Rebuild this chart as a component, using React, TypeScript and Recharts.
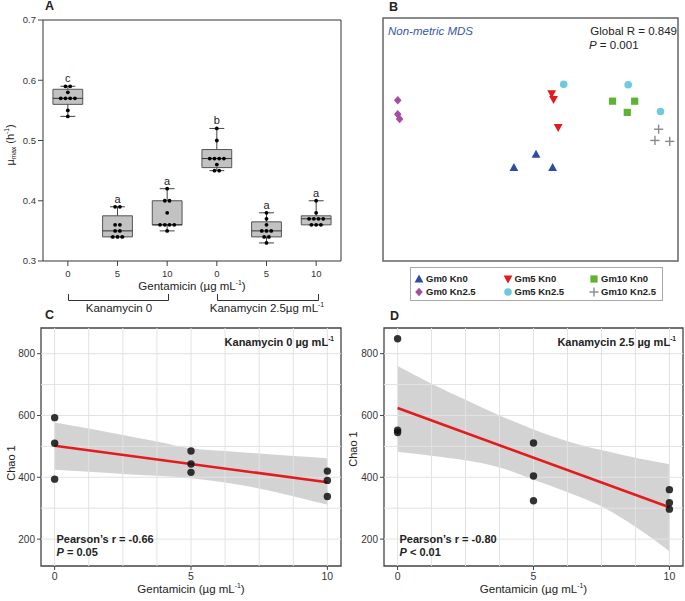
import React from 'react';
import {
  ComposedChart,
  ScatterChart,
  Scatter,
  Line,
  Area,
  XAxis,
  YAxis,
  ReferenceLine,
  ReferenceArea,
} from 'recharts';

// ---- panel A: growth rate boxplots ----
const doseLabels = ['0', '5', '10', '0', '5', '10'];
const sigLetters = ['c', 'a', 'a', 'b', 'a', 'a'];
const muTicks = [0.3, 0.4, 0.5, 0.6, 0.7];

const muKn0Gm0 = [0.59, 0.59, 0.58, 0.57, 0.57, 0.57, 0.57, 0.55, 0.54];
const muKn0Gm5 = [0.39, 0.39, 0.36, 0.36, 0.35, 0.35, 0.34, 0.34, 0.34];
const muKn0Gm10 = [0.42, 0.4, 0.4, 0.38, 0.36, 0.36, 0.36, 0.36, 0.35];
const muKn25Gm0 = [0.52, 0.5, 0.47, 0.47, 0.47, 0.47, 0.46, 0.45, 0.45];
const muKn25Gm5 = [0.38, 0.37, 0.36, 0.35, 0.35, 0.35, 0.34, 0.34, 0.33];
const muKn25Gm10 = [0.4, 0.38, 0.37, 0.37, 0.37, 0.37, 0.36, 0.36, 0.36];

const boxQ1 = [0.56, 0.34, 0.36, 0.455, 0.34, 0.36];
const boxMedian = [0.57, 0.35, 0.36, 0.47, 0.35, 0.37];
const boxQ3 = [0.585, 0.375, 0.4, 0.485, 0.365, 0.375];
const whiskLow = [0.54, 0.34, 0.35, 0.45, 0.33, 0.36];
const whiskHigh = [0.59, 0.39, 0.42, 0.52, 0.38, 0.4];

// ---- panel B: NMDS ordination ----
const gm0kn0 = [{ x: 0.06, y: -0.16 }, { x: -0.18, y: -0.3 }, { x: 0.24, y: -0.3 }];
const gm5kn0 = [{ x: 0.23, y: 0.49 }, { x: 0.25, y: 0.43 }, { x: 0.3, y: 0.13 }];
const gm10kn0 = [{ x: 0.89, y: 0.41 }, { x: 1.13, y: 0.41 }, { x: 1.05, y: 0.29 }];
const gm0kn25 = [{ x: -1.44, y: 0.42 }, { x: -1.44, y: 0.27 }, { x: -1.42, y: 0.22 }];
const gm5kn25 = [{ x: 0.36, y: 0.59 }, { x: 1.06, y: 0.585 }, { x: 1.41, y: 0.3 }];
const gm10kn25 = [{ x: 1.39, y: 0.11 }, { x: 1.35, y: -0.01 }, { x: 1.51, y: -0.02 }];

// ---- panels C / D: Chao1 vs gentamicin ----
const chaoTicks = [200, 400, 600, 800];
const gentTicks = [0, 5, 10];
const chaoGridY = [200, 300, 400, 500, 600, 700, 800];
const gentGridX = [0, 1.25, 2.5, 3.75, 5, 6.25, 7.5, 8.75, 10];

const chaoKn0 = [
  { x: 0, y: 593 }, { x: 0, y: 510 }, { x: 0, y: 394 },
  { x: 5, y: 485 }, { x: 5, y: 443 }, { x: 5, y: 416 },
  { x: 10, y: 420 }, { x: 10, y: 390 }, { x: 10, y: 338 },
];
const fitKn0 = [502, 384];
const upperKn0 = [577, 558, 537, 516, 494, 485, 477, 469, 462];
const lowerKn0 = [424, 418, 411, 405, 397, 383, 364, 339, 311];

const chaoKn25 = [
  { x: 0, y: 848 }, { x: 0, y: 552 }, { x: 0, y: 545 },
  { x: 5, y: 511 }, { x: 5, y: 404 }, { x: 5, y: 324 },
  { x: 10, y: 360 }, { x: 10, y: 318 }, { x: 10, y: 297 },
];
const fitKn25 = [624, 303];
const upperKn25 = [760, 703, 651, 600, 555, 517, 488, 463, 442];
const lowerKn25 = [483, 470, 455, 432, 392, 352, 306, 240, 161];

const FONT = '"Liberation Sans", Arial, Helvetica, sans-serif';

function T({ x, y, children, anchor = 'start', size = 11, weight = 400, italic = false, color = '#222', rotate = false }: any) {
  const tx = anchor === 'start' ? '0' : anchor === 'middle' ? '-50%' : '-100%';
  return (
    <div
      style={{
        position: 'absolute',
        left: x,
        top: y,
        transform: `translate(${tx}, -50%)${rotate ? ' rotate(-90deg)' : ''}`,
        fontSize: size,
        fontWeight: weight,
        fontStyle: italic ? 'italic' : 'normal',
        color,
        whiteSpace: 'nowrap',
        lineHeight: 1,
      }}
    >
      {children}
    </div>
  );
}

const Sup = ({ children }: any) => (
  <span style={{ fontSize: '0.6em', position: 'relative', top: '-0.7em' }}>{children}</span>
);
const Sub = ({ children }: any) => (
  <span style={{ fontSize: '0.6em', position: 'relative', top: '0.35em' }}>{children}</span>
);

function Marker({ kind, cx, cy, color }: any) {
  if (kind === 'triUp')
    return <polygon points={`${cx},${cy - 4.6} ${cx - 4.4},${cy + 3.4} ${cx + 4.4},${cy + 3.4}`} fill={color} />;
  if (kind === 'triDown')
    return <polygon points={`${cx},${cy + 4.6} ${cx - 4.4},${cy - 3.4} ${cx + 4.4},${cy - 3.4}`} fill={color} />;
  if (kind === 'square') return <rect x={cx - 3.6} y={cy - 3.6} width={7.2} height={7.2} fill={color} />;
  if (kind === 'diamond')
    return <polygon points={`${cx},${cy - 4.3} ${cx + 3.8},${cy} ${cx},${cy + 4.3} ${cx - 3.8},${cy}`} fill={color} />;
  if (kind === 'circle') return <circle cx={cx} cy={cy} r={3.8} fill={color} />;
  return (
    <g stroke={color} strokeWidth={1.4}>
      <line x1={cx - 4.6} x2={cx + 4.6} y1={cy} y2={cy} />
      <line x1={cx} x2={cx} y1={cy - 4.6} y2={cy + 4.6} />
    </g>
  );
}

const nmdsGroups = [
  { name: 'Gm0 Kn0', kind: 'triUp', color: '#2C4DA3', pts: gm0kn0 },
  { name: 'Gm5 Kn0', kind: 'triDown', color: '#E8161E', pts: gm5kn0 },
  { name: 'Gm10 Kn0', kind: 'square', color: '#5CB432', pts: gm10kn0 },
  { name: 'Gm0 Kn2.5', kind: 'diamond', color: '#A64DA1', pts: gm0kn25 },
  { name: 'Gm5 Kn2.5', kind: 'circle', color: '#6FCADB', pts: gm5kn25 },
  { name: 'Gm10 Kn2.5', kind: 'plus', color: '#8A8A8A', pts: gm10kn25 },
];

// spread tied values sideways like a dot plot
function spreadDots(groups: number[][]) {
  const out: { x: number; y: number }[] = [];
  groups.forEach((vals, gi) => {
    const counts: Record<string, number> = {};
    vals.forEach((v) => (counts[v.toFixed(3)] = (counts[v.toFixed(3)] || 0) + 1));
    const seen: Record<string, number> = {};
    vals.forEach((v) => {
      const k = v.toFixed(3);
      const n = counts[k];
      const i = seen[k] || 0;
      seen[k] = i + 1;
      out.push({ x: gi + (i - (n - 1) / 2) * 0.095, y: v });
    });
  });
  return out;
}

function PanelA() {
  const dots = spreadDots([muKn0Gm0, muKn0Gm5, muKn0Gm10, muKn25Gm0, muKn25Gm5, muKn25Gm10]);
  const letters = sigLetters.map((l, i) => ({ x: i, y: whiskHigh[i], letter: l }));
  const edge = '#444';
  return (
    <div style={{ position: 'absolute', left: 0, top: 0 }}>
      <ComposedChart width={345} height={283} margin={{ top: 20, right: 4, bottom: 0, left: 0 }}>
        <XAxis
          dataKey="x"
          type="number"
          domain={[-0.5, 5.5]}
          ticks={[0, 1, 2, 3, 4, 5]}
          interval={0}
          tickFormatter={(v) => doseLabels[v]}
          axisLine={false}
          tickLine={{ stroke: edge }}
          tickSize={5}
          tickMargin={4}
          height={22}
          tick={{ fontSize: 9.5, fill: '#333' }}
          allowDataOverflow
        />
        <YAxis
          type="number"
          domain={[0.3, 0.7]}
          ticks={muTicks}
          tickFormatter={(v) => v.toFixed(1)}
          axisLine={false}
          tickLine={{ stroke: edge }}
          tickSize={5}
          tickMargin={2}
          width={43}
          tick={{ fontSize: 9.5, fill: '#333' }}
          allowDataOverflow
        />
        {boxQ1.map((q1, i) => (
          <ReferenceLine key={'wl' + i} segment={[{ x: i, y: whiskLow[i] }, { x: i, y: q1 }]} stroke={edge} />
        ))}
        {boxQ3.map((q3, i) => (
          <ReferenceLine key={'wh' + i} segment={[{ x: i, y: q3 }, { x: i, y: whiskHigh[i] }]} stroke={edge} />
        ))}
        {whiskLow.map((v, i) => (
          <ReferenceLine key={'cl' + i} segment={[{ x: i - 0.15, y: v }, { x: i + 0.15, y: v }]} stroke={edge} />
        ))}
        {whiskHigh.map((v, i) => (
          <ReferenceLine key={'ch' + i} segment={[{ x: i - 0.15, y: v }, { x: i + 0.15, y: v }]} stroke={edge} />
        ))}
        {boxQ1.map((q1, i) => (
          <ReferenceArea
            key={'bx' + i}
            x1={i - 0.3}
            x2={i + 0.3}
            y1={q1}
            y2={boxQ3[i]}
            fill="#C2C2C2"
            fillOpacity={1}
            stroke="#555"
            strokeWidth={1}
          />
        ))}
        {boxMedian.map((m, i) => (
          <ReferenceLine key={'md' + i} segment={[{ x: i - 0.3, y: m }, { x: i + 0.3, y: m }]} stroke="#333" />
        ))}
        <ReferenceArea x1={-0.5} x2={5.5} y1={0.3} y2={0.7} fill="none" stroke="#333" strokeWidth={1} />
        <Scatter
          data={dots}
          dataKey="y"
          isAnimationActive={false}
          shape={(p: any) => <circle cx={p.cx} cy={p.cy} r={1.9} fill="#000" />}
        />
        <Scatter
          data={letters}
          dataKey="y"
          isAnimationActive={false}
          shape={(p: any) => (
            <text x={p.cx} y={p.cy - 4} textAnchor="middle" fontSize={11} fill="#222">
              {p.payload?.letter ?? p.letter}
            </text>
          )}
        />
      </ComposedChart>
      <T x={10} y={145} anchor="middle" rotate size={11}>
        µ<Sub>max</Sub> (h<Sup>-1</Sup>)
      </T>
      <T x={192} y={287} anchor="middle" size={11.5}>
        Gentamicin (µg mL<Sup>-1</Sup>)
      </T>
      <svg style={{ position: 'absolute', left: 0, top: 0 }} width={345} height={310}>
        <path d="M68.5 294 V300.5 H168.5 V294" stroke="#333" fill="none" />
        <path d="M217.5 294 V300.5 H318.5 V294" stroke="#333" fill="none" />
      </svg>
      <T x={119} y={308.5} anchor="middle" size={11.5}>
        Kanamycin 0
      </T>
      <T x={267} y={308.5} anchor="middle" size={11.5}>
        Kanamycin 2.5µg mL<Sup>-1</Sup>
      </T>
    </div>
  );
}

function PanelB() {
  return (
    <div style={{ position: 'absolute', left: 340, top: 0 }}>
      <ScatterChart width={345} height={262} margin={{ top: 18, right: 7, bottom: 1, left: 43 }}>
        <XAxis dataKey="x" type="number" domain={[-1.6, 1.6]} hide allowDataOverflow />
        <YAxis dataKey="y" type="number" domain={[-1.3, 1.3]} hide allowDataOverflow />
        <ReferenceArea x1={-1.6} x2={1.6} y1={-1.3} y2={1.3} fill="none" stroke="#666" strokeWidth={1.5} />
        {nmdsGroups.map((g) => (
          <Scatter
            key={g.name}
            data={g.pts}
            isAnimationActive={false}
            shape={(p: any) => <Marker kind={g.kind} cx={p.cx} cy={p.cy} color={g.color} />}
          />
        ))}
      </ScatterChart>
      <T x={48} y={32} size={11.5} italic color="#3557A8">
        Non-metric MDS
      </T>
      <T x={337} y={32} anchor="end" size={11.5}>
        Global R = 0.849
      </T>
      <T x={249} y={45.5} size={11.5}>
        <i>P</i> = 0.001
      </T>
      <div
        style={{
          position: 'absolute',
          left: 70,
          top: 266.5,
          width: 251,
          height: 32,
          border: '1.5px solid #A8A8A8',
        }}
      >
        {nmdsGroups.map((g, i) => {
          const col = i % 3;
          const row = Math.floor(i / 3);
          const mx = [8, 96.5, 183][col];
          const my = [11, 24.5][row];
          return (
            <React.Fragment key={g.name}>
              <svg style={{ position: 'absolute', left: mx - 6, top: my - 6 }} width={12} height={12}>
                <Marker kind={g.kind} cx={6} cy={6} color={g.color} />
              </svg>
              <T x={mx + 7} y={my} size={9.5} weight={700} color="#222">
                {g.name}
              </T>
            </React.Fragment>
          );
        })}
      </div>
    </div>
  );
}

function ChaoPanel({ left, width, rightMargin, points, fit, upper, lower, title, r, p }: any) {
  const band = gentGridX.map((x, i) => ({
    x,
    band: [lower[i], upper[i]],
    fit: i === 0 ? fit[0] : i === gentGridX.length - 1 ? fit[1] : null,
  }));
  const edge = '#444';
  const plotLeft = 41;
  const plotRight = width - rightMargin;
  return (
    <div style={{ position: 'absolute', left, top: 310 }}>
      <ComposedChart width={width} height={290} data={band} margin={{ top: 18, right: rightMargin, bottom: 0, left: 0 }}>
        <XAxis
          dataKey="x"
          type="number"
          domain={[-0.5, 10.5]}
          ticks={gentTicks}
          interval={0}
          axisLine={false}
          tickLine={{ stroke: edge }}
          tickSize={4}
          tickMargin={3}
          height={34}
          tick={{ fontSize: 10.5, fill: '#333' }}
          allowDataOverflow
        />
        <YAxis
          type="number"
          domain={[113, 883]}
          ticks={chaoTicks}
          axisLine={false}
          tickLine={{ stroke: edge }}
          tickSize={4}
          tickMargin={2}
          width={41}
          tick={{ fontSize: 10, fill: '#333' }}
          allowDataOverflow
        />
        {chaoGridY.map((v) => (
          <ReferenceLine key={'gy' + v} y={v} stroke="#E2E2E2" strokeWidth={1} />
        ))}
        {gentGridX.map((v) => (
          <ReferenceLine key={'gx' + v} x={v} stroke="#E2E2E2" strokeWidth={1} />
        ))}
        <Area
          dataKey="band"
          type="monotone"
          stroke="none"
          fill="#9E9E9E"
          fillOpacity={0.45}
          isAnimationActive={false}
          activeDot={false}
        />
        <Line
          dataKey="fit"
          stroke="#E41A1C"
          strokeWidth={2.6}
          dot={false}
          connectNulls
          isAnimationActive={false}
          activeDot={false}
        />
        <Scatter
          data={points}
          dataKey="y"
          isAnimationActive={false}
          shape={(pp: any) => <circle cx={pp.cx} cy={pp.cy} r={3.7} fill="#111" fillOpacity={0.85} />}
        />
        <ReferenceArea x1={-0.5} x2={10.5} y1={113} y2={883} fill="none" stroke={edge} strokeWidth={1.3} />
      </ComposedChart>
      <T x={plotRight - 7} y={31.5} anchor="end" size={11} weight={700}>
        {title}
      </T>
      <T x={plotLeft + 15.5} y={228.5} size={11} weight={700}>
        {r}
      </T>
      <T x={plotLeft + 15.5} y={242} size={11} weight={700}>
        {p}
      </T>
      <T x={(plotLeft + plotRight) / 2} y={280} anchor="middle" size={11.5}>
        Gentamicin (µg mL<Sup>-1</Sup>)
      </T>
    </div>
  );
}

export default function App() {
  return (
    <div
      style={{
        position: 'absolute',
        left: 0,
        top: 0,
        width: 685,
        height: 601,
        background: '#fff',
        fontFamily: FONT,
        overflow: 'hidden',
      }}
    >
      <PanelA />
      <PanelB />
      <ChaoPanel
        left={0}
        width={345}
        rightMargin={4}
        points={chaoKn0}
        fit={fitKn0}
        upper={upperKn0}
        lower={lowerKn0}
        title={<>Kanamycin 0 µg mL<Sup>-1</Sup></>}
        r="Pearson’s r = -0.66"
        p={<><i>P</i> = 0.05</>}
      />
      <ChaoPanel
        left={343}
        width={342}
        rightMargin={2}
        points={chaoKn25}
        fit={fitKn25}
        upper={upperKn25}
        lower={lowerKn25}
        title={<>Kanamycin 2.5 µg mL<Sup>-1</Sup></>}
        r="Pearson’s r = -0.80"
        p={<><i>P</i> &lt; 0.01</>}
      />
      <T x={11} y={463} anchor="middle" rotate size={11}>
        Chao 1
      </T>
      <T x={352.5} y={449} anchor="middle" rotate size={11}>
        Chao 1
      </T>
      <T x={45} y={6} size={12.5} weight={700}>A</T>
      <T x={389} y={7} size={12.5} weight={700}>B</T>
      <T x={45} y={315} size={12.5} weight={700}>C</T>
      <T x={390} y={316} size={12.5} weight={700}>D</T>
    </div>
  );
}
